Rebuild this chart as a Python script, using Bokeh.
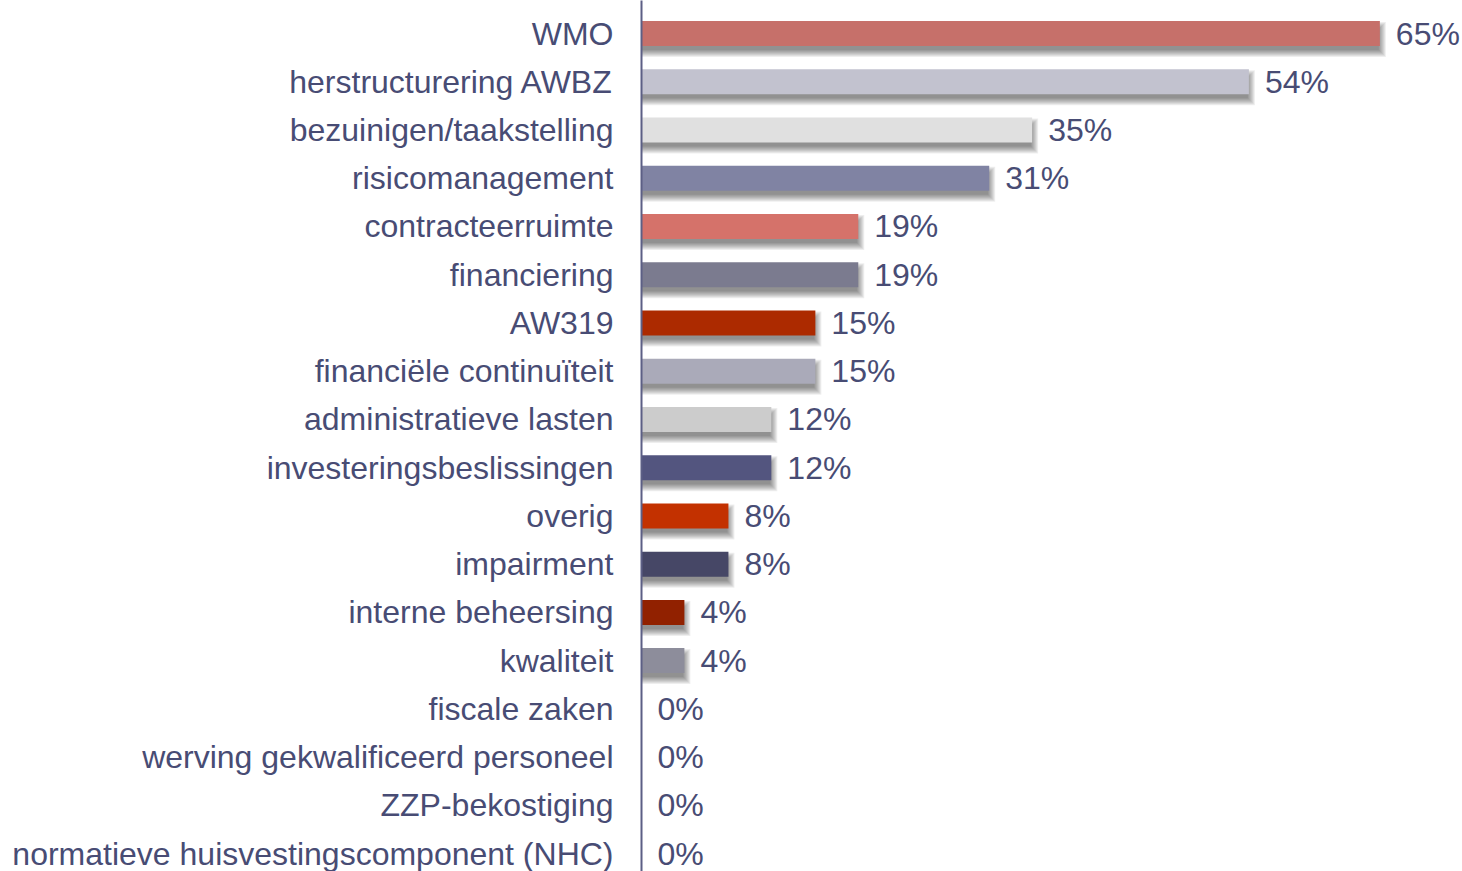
from bokeh.plotting import figure
from bokeh.models import Range1d, FixedTicker, ColumnDataSource
from bokeh.core.properties import value
from bokeh.embed import file_html
from bokeh.resources import INLINE

categories = [
    "WMO", "herstructurering AWBZ", "bezuinigen/taakstelling", "risicomanagement",
    "contracteerruimte", "financiering", "AW319", "financiële continuïteit",
    "administratieve lasten", "investeringsbeslissingen", "overig", "impairment",
    "interne beheersing", "kwaliteit", "fiscale zaken", "werving gekwalificeerd personeel",
    "ZZP-bekostiging", "normatieve huisvestingscomponent (NHC)",
]
values = [65.4, 53.8, 34.6, 30.8, 19.2, 19.2, 15.4, 15.4, 11.5, 11.5,
          7.7, 7.7, 3.8, 3.8, 0.0, 0.0, 0.0, 0.0]
colors = [
    "#c6706a", "#c2c2cf", "#e0e0e0", "#8083a3", "#d5726a", "#7b7b8f",
    "#ac2a00", "#aaaab9", "#cccccc", "#53557f", "#c33100", "#464766",
    "#912100", "#8d8d9b", "#aaaaaa", "#aaaaaa", "#aaaaaa", "#aaaaaa",
]
labels = ["%.0f%%" % v for v in values]

TEXT = "#484c74"
FONT = "Liberation Sans"
FS = "32px"

W, H = 1462, 871
LEFT = 641
PX_PER_UNIT = 11.29
X_END = (W - LEFT) / PX_PER_UNIT
ROW = 48.24
y_top = -33.0 / ROW
y_bot = y_top + H / ROW
BAR_H = 25 / ROW

ys = list(range(len(categories)))

p = figure(width=W, height=H, output_backend="svg", toolbar_location=None,
           x_range=Range1d(0, X_END), y_range=Range1d(y_bot, y_top),
           x_axis_location=None, min_border_left=LEFT, min_border_right=0,
           min_border_top=0, min_border_bottom=0)
p.outline_line_color = None
p.xgrid.visible = False
p.ygrid.visible = False
p.background_fill_color = "white"
p.border_fill_color = "white"

# soft drop shadows
nz = [i for i, v in enumerate(values) if v > 0]
for s in [5, 4, 3, 2, 1, 0, -1, -2]:
    p.hbar(y=[ys[i] + 6 / ROW for i in nz], left=0,
           right=[values[i] + (1 + s) / PX_PER_UNIT for i in nz],
           height=(25 + 2 * s) / ROW, color="black", alpha=0.065, line_color=None)

src = ColumnDataSource(dict(y=ys, v=values, c=colors, t=labels))
p.hbar(y="y", left=0, right="v", height=BAR_H, fill_color="c", line_color=None, source=src)
p.text(x="v", y="y", text="t", x_offset=16, text_align="left", text_baseline="middle",
       text_font=value(FONT), text_font_size=FS, text_color=TEXT, source=src)

ax = p.yaxis[0]
ax.ticker = FixedTicker(ticks=ys)
ax.major_label_overrides = {i: c for i, c in enumerate(categories)}
ax.major_label_text_font = FONT
ax.major_label_text_font_size = FS
ax.major_label_text_color = TEXT
ax.major_label_standoff = 28
ax.major_tick_line_color = None
ax.minor_tick_line_color = None
ax.major_tick_out = 0
ax.major_tick_in = 0
ax.axis_line_color = "#5c5f85"
ax.axis_line_width = 2

open("out.html", "w").write(file_html(p, INLINE))
